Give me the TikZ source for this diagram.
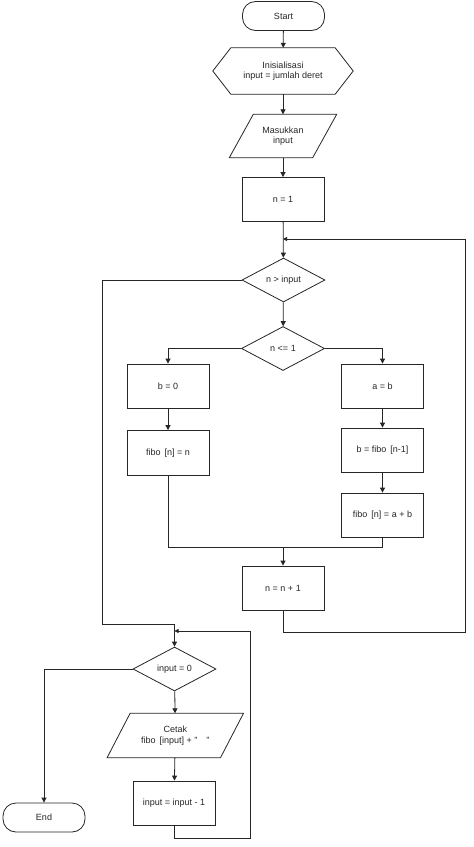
\documentclass[tikz,border=0pt]{standalone}
\usepackage{fontspec}
\setmainfont{Liberation Sans}
\usetikzlibrary{arrows.meta,calc,shapes.geometric}
\begin{document}
\begin{tikzpicture}[x=1pt,y=-1pt,
  every node/.style={font=\fontsize{9}{10.5}\selectfont, align=center, inner sep=0pt, text=black!85},
  line/.style={draw=black!85, line width=0.8pt},
  arr/.style={line, -{Triangle[length=5pt,width=5pt]}},
  arrs/.style={line, -{Triangle[length=4pt,width=4pt]}},
  proc/.style={line, rectangle, minimum width=82pt, minimum height=44pt},
  term/.style={line, rectangle, rounded corners=13pt, minimum width=82pt, minimum height=29pt},
  dec/.style={line, diamond, minimum width=83pt, minimum height=44pt},
  ghost/.style={rectangle, minimum width=#1, minimum height=44pt},
]
\useasboundingbox (0,0) rectangle (474,847);
\fill[white] (0,0) rectangle (474,847);

% nodes
\node[term] (start) at (283.5,16) {Start};
\node[ghost=140pt, minimum height=46pt] (hex) at (283,71) {Inisialisasi\\input = jumlah deret};
\draw[line] (hex.west) -- ($(hex.north west)+(18,0)$) -- ($(hex.north east)+(-18,0)$) -- (hex.east) -- ($(hex.south east)+(-18,0)$) -- ($(hex.south west)+(18,0)$) -- cycle;
\node[ghost=107pt, minimum height=43pt] (in1) at (283,136) {Masukkan\\input};
\draw[line] ($(in1.north west)+(24,0)$) -- (in1.north east) -- ($(in1.south east)+(-24,0)$) -- (in1.south west) -- cycle;
\node[proc] (n1) at (283,199.5) {n = 1};
\node[dec] (d1) at (283.5,280) {n > input};
\node[dec] (d2) at (283,348.5) {n <= 1};
\node[proc] (b0) at (168,386) {b = 0};
\node[proc, minimum height=45pt] (fn) at (168,453) {fibo \,[n] = n};
\node[proc] (ab) at (382.5,386) {a = b};
\node[proc] (bf) at (382.5,450) {b = fibo \,[n-1]};
\node[proc] (fab) at (382.5,515) {fibo \,[n] = a + b};
\node[proc] (nn) at (283,588) {n = n + 1};
\node[dec] (d3) at (174.5,669) {input = 0};
\node[ghost=136pt] (out) at (175.3,735.5) {Cetak\\fibo \,[input] + "\quad"};
\draw[line] ($(out.north west)+(23,0)$) -- (out.north east) -- ($(out.south east)+(-23,0)$) -- (out.south west) -- cycle;
\node[proc] (decr) at (174,803) {input = input - 1};
\node[term] (end) at (44,817.5) {End};

% helper coordinates
\coordinate (j1) at (283,239);
\coordinate (r1) at (465,632);
\coordinate (r2) at (465,239);
\coordinate (m) at (283,547);
\coordinate (l1) at (102,280);
\coordinate (l2) at (102,624);
\coordinate (j2) at (174.5,624);
\coordinate (j3) at (174.5,631);
\coordinate (b1) at (250,838);
\coordinate (b2) at (250,631);

% connectors
\draw[arr] (start) -- (hex);
\draw[arr] (hex) -- (in1);
\draw[arr] (in1) -- (n1);
\draw[arr] (n1) -- (d1);
\draw[arr] (d1) -- (d2);
\draw[arr] (d2.west) -| (b0.north);
\draw[arr] (d2.east) -| (ab.north);
\draw[arr] (b0) -- (fn);
\draw[arr] (ab) -- (bf);
\draw[arr] (bf) -- (fab);
\draw[line] (fn.south) |- (m);
\draw[line] (fab.south) |- (m);
\draw[arr] (m) -- (nn);
\draw[line] (nn.south) |- (r1) -- (r2);
\draw[arrs] (r2) -- (j1);
\draw[line] (d1.west) -- (l1) -- (l2) -- (j2);
\draw[arr] (j2) -- (d3.north);
\draw[arr] (d3.west) -| (end.north);
\draw[arr] (d3) -- (out);
\draw[arr] (out) -- (decr);
\draw[line] (decr.south) |- (b1) -- (b2);
\draw[arrs] (b2) -- (j3);
\end{tikzpicture}
\end{document}
